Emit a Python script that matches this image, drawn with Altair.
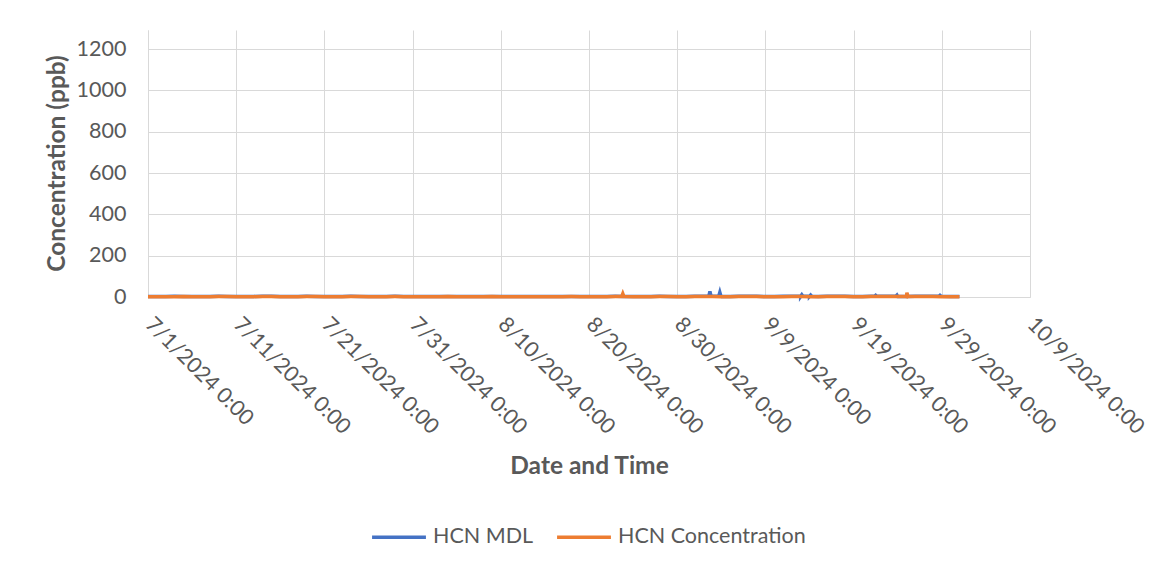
import altair as alt
import pandas as pd

# ---- data ----
start_day = "2024-07-01"
n_days = 93  # 7/1/2024 .. 10/1/2024, daily readings

conc_daily = [
    1.5, 1.2, 0.9, 1.8, 2.1, 1.4, 1.0, 1.6, 2.2, 1.9,
    1.3, 1.1, 1.7, 2.4, 2.0, 1.5, 1.2, 1.8, 2.6, 2.1,
    1.4, 1.0, 1.6, 2.3, 1.9, 1.3, 1.1, 1.7, 2.2, 1.8,
    1.5, 1.2, 0.9, 1.4, 2.0, 1.6, 1.1, 0.8, 1.3, 1.9,
    1.5, 1.0, 0.9, 1.4, 1.8, 1.3, 1.1, 1.6, 2.1, 1.7,
    1.4, 1.2, 1.8, 2.3, 1.9, 1.4, 1.2, 1.7, 2.5, 2.0,
    1.6, 1.3, 2.2, 2.8, 2.4, 1.7, 1.4, 1.9, 2.6, 2.1,
    1.6, 1.3, 1.8, 2.7, 2.3, 1.8, 1.5, 1.9, 2.8, 2.2,
    1.7, 1.4, 2.0, 2.9, 2.4, 1.9, 1.6, 2.1, 2.7, 2.2,
    1.8, 1.5, 1.3,
]
mdl_daily = [
    2.8, 2.6, 2.9, 3.1, 2.7, 2.5, 2.8, 3.0, 3.2, 2.9,
    2.7, 2.6, 3.0, 3.3, 3.1, 2.8, 2.6, 2.9, 3.4, 3.0,
    2.7, 2.5, 2.9, 3.2, 3.0, 2.7, 2.6, 2.9, 3.1, 2.8,
    2.6, 2.4, 2.3, 2.6, 2.9, 2.7, 2.4, 2.2, 2.5, 2.8,
    2.6, 2.3, 2.2, 2.5, 2.8, 2.5, 2.4, 2.7, 3.0, 2.8,
    2.6, 2.5, 2.9, 3.2, 3.0, 2.7, 2.5, 2.8, 3.3, 3.0,
    2.8, 2.6, 3.4, 3.8, 3.5, 3.0, 2.8, 3.1, 3.6, 3.2,
    2.9, 2.7, 3.1, 3.7, 3.4, 3.0, 2.8, 3.2, 3.8, 3.3,
    3.0, 2.8, 3.3, 3.9, 3.5, 3.1, 2.9, 3.3, 3.7, 3.4,
    3.1, 2.9, 2.7,
]

# short spikes (timestamp, value) seen in the reference
conc_spike_times = [
    "2024-08-23T17:00", "2024-08-23T20:00", "2024-08-23T23:00",
    "2024-09-24T22:00", "2024-09-25T01:00", "2024-09-25T04:00",
]
conc_spike_values = [2.0, 16.0, 2.1, 2.4, 21.0, 2.3]

mdl_spike_times = [
    "2024-09-02T14:00", "2024-09-02T17:00", "2024-09-02T20:00",
    "2024-09-03T17:00", "2024-09-03T20:00", "2024-09-03T23:00",
    "2024-09-13T00:00", "2024-09-13T03:00", "2024-09-13T06:00",
    "2024-09-14T00:00", "2024-09-14T03:00", "2024-09-14T06:00",
    "2024-09-21T09:00", "2024-09-21T12:00", "2024-09-21T15:00",
    "2024-09-23T19:00", "2024-09-23T22:00", "2024-09-24T01:00",
    "2024-09-28T16:00", "2024-09-28T19:00", "2024-09-28T22:00",
]
mdl_spike_values = [
    3.5, 27.0, 3.6,
    3.4, 22.0, 3.3,
    3.2, 11.0, 3.2,
    3.4, 9.0, 3.3,
    3.5, 8.0, 3.4,
    3.6, 9.0, 3.5,
    3.4, 8.0, 3.3,
]

series_names = ["HCN MDL", "HCN Concentration"]
series_colors = ["#4472C4", "#ED7D31"]
tick_dates = ["2024-07-01", "2024-07-11", "2024-07-21", "2024-07-31", "2024-08-10",
              "2024-08-20", "2024-08-30", "2024-09-09", "2024-09-19", "2024-09-29",
              "2024-10-09"]
y_ticks = [0, 200, 400, 600, 800, 1000, 1200]

# ---- build table ----
days = pd.date_range(start_day, periods=n_days, freq="D")
frames = []
for name, daily, st, sv in [
    ("HCN MDL", mdl_daily, mdl_spike_times, mdl_spike_values),
    ("HCN Concentration", conc_daily, conc_spike_times, conc_spike_values),
]:
    d = pd.DataFrame({"t": list(days) + list(pd.to_datetime(st)),
                      "v": list(daily) + list(sv)})
    d["series"] = name
    frames.append(d.sort_values("t"))
df = pd.concat(frames, ignore_index=True)
df["t"] = df["t"].dt.strftime("%Y-%m-%dT%H:%M:%S")

FONT = "Lato"
TXT = "#595959"
GRID = "#D9D9D9"
LBL = 21.5
TTL = 24.5

tick_vals = [alt.DateTime(year=int(s[:4]), month=int(s[5:7]), date=int(s[8:10])) for s in tick_dates]

x_enc = alt.X(
    "t:T",
    scale=alt.Scale(domain=[alt.DateTime(year=2024, month=7, date=1),
                            alt.DateTime(year=2024, month=10, date=9)], nice=False),
    axis=alt.Axis(
        title="Date and Time", values=tick_vals, format="%-m/%-d/%Y %-H:%M",
        labelAngle=45, labelAlign="left", labelBaseline="middle",
        labelPadding=24, labelFontSize=LBL, labelColor=TXT, labelFont=FONT,
        labelOverlap=False, labelFlush=False, labelBound=False,
        ticks=False, grid=True, gridColor=GRID, gridWidth=1,
        domainColor=GRID, domainWidth=1,
        titleFontSize=TTL, titleFont=FONT, titleFontWeight="bold", titleColor=TXT,
        titleX=441, titleY=169, titleAlign="center", titleBaseline="middle",
    ),
)
y_enc = alt.Y(
    "v:Q",
    scale=alt.Scale(domain=[0, 1292], nice=False),
    axis=alt.Axis(
        title="Concentration (ppb)", values=y_ticks, format="d",
        labelFontSize=LBL, labelColor=TXT, labelFont=FONT, labelPadding=22,
        ticks=False, grid=True, gridColor=GRID, gridWidth=1,
        domainColor=GRID, domainWidth=1,
        titleFontSize=TTL, titleFont=FONT, titleFontWeight="bold", titleColor=TXT,
        titleAngle=270, titleX=-91, titleY=133, titleAlign="center", titleBaseline="middle",
    ),
)
color_enc = alt.Color(
    "series:N",
    scale=alt.Scale(domain=series_names, range=series_colors),
    legend=alt.Legend(
        title=None, orient="none", direction="horizontal", legendX=222, legendY=478,
        symbolType="stroke", symbolSize=2900, symbolStrokeWidth=3.5,
        labelFontSize=LBL, labelFont=FONT, labelColor=TXT, labelOffset=5,
        columnPadding=16, labelLimit=400,
    ),
)

base = alt.Chart(df).encode(x=x_enc, y=y_enc, color=color_enc)
mdl = base.transform_filter(alt.datum.series == "HCN MDL").mark_line(strokeWidth=3.5)
conc = base.transform_filter(alt.datum.series == "HCN Concentration").mark_line(strokeWidth=3.5)

chart = alt.layer(mdl, conc).properties(
    width=882, height=267,
    autosize=alt.AutoSizeParams(type="none"),
    padding={"left": 140, "top": 22, "right": 126, "bottom": 272},
    background="white",
).configure_view(stroke=None)

chart.save("out.html", embed_options={"renderer": "svg", "actions": False})
